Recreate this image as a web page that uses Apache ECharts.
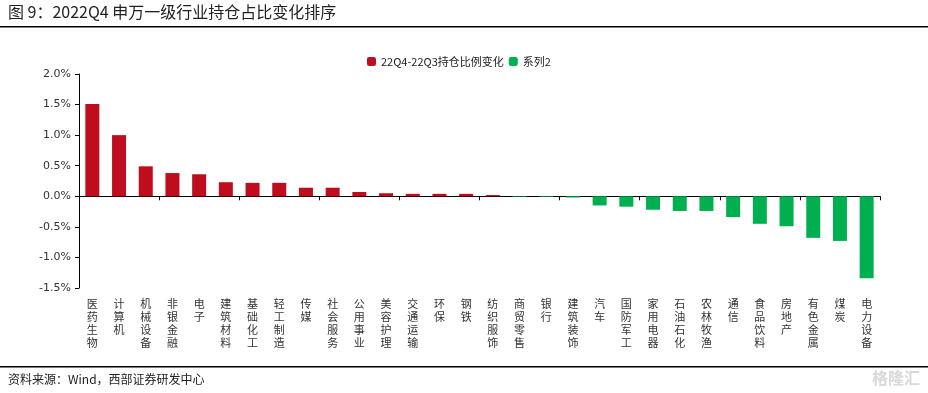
<!DOCTYPE html>
<html><head><meta charset="utf-8">
<script src="https://cdn.jsdelivr.net/npm/echarts@6/dist/echarts.min.js"></script>
<style>html,body{margin:0;padding:0;background:#fff}#c{width:928px;height:393px}</style>
</head><body><div id="c"></div>
<script>
var categories = ['医药生物','计算机','机械设备','非银金融','电子','建筑材料','基础化工','轻工制造','传媒','社会服务','公用事业','美容护理','交通运输','环保','钢铁','纺织服饰','商贸零售','银行','建筑装饰','汽车','国防军工','家用电器','石油石化','农林牧渔','通信','食品饮料','房地产','有色金属','煤炭','电力设备'];
var changeValues = [1.51,1.00,0.49,0.38,0.36,0.23,0.22,0.22,0.14,0.14,0.07,0.05,0.04,0.04,0.04,0.02,-0.01,-0.01,-0.02,-0.15,-0.17,-0.22,-0.24,-0.24,-0.34,-0.45,-0.49,-0.68,-0.73,-1.34];
var yTicks = [-1.5,-1.0,-0.5,0.0,0.5,1.0,1.5,2.0];
var seriesNames = ['22Q4-22Q3持仓比例变化','系列2'];

var posData = changeValues.map(function(v){return v>=0?v:'-';});
var negData = changeValues.map(function(v){return v<0?v:'-';});
var FONT = '"Noto Sans CJK SC", sans-serif';
var chart = echarts.init(document.getElementById('c'));
chart.setOption({
  animation:false,
  textStyle:{fontFamily:FONT},
  legend:{
    top:51, left:362, itemWidth:9, itemHeight:9, itemGap:5,
    textStyle:{fontSize:11,color:'#222',fontFamily:FONT},
    data:seriesNames
  },
  grid:{left:79,right:48,top:74,bottom:105,containLabel:false},
  xAxis:[{
    type:'category', data:categories,
    axisLine:{onZero:true,lineStyle:{color:'#000',width:1}},
    axisTick:{show:true,alignWithLabel:false,length:4,lineStyle:{color:'#000'}},
    axisLabel:{show:false}
  },{
    type:'category', data:categories, position:'bottom',
    axisLine:{show:false}, axisTick:{show:false},
    axisLabel:{interval:0,margin:9,fontSize:11,lineHeight:13,color:'#333',fontFamily:FONT,
      formatter:function(v){return v.split('').join('\n');}}
  }],
  yAxis:{
    type:'value', min:yTicks[0], max:yTicks[yTicks.length-1], interval:0.5,
    splitLine:{show:false},
    axisLine:{show:true,lineStyle:{color:'#000'}},
    axisTick:{show:true,length:4,lineStyle:{color:'#000'}},
    axisLabel:{fontSize:11,color:'#333',margin:8,fontFamily:'"DejaVu Sans", sans-serif',
      formatter:function(v){return v.toFixed(1)+'%';}}
  },
  series:[
    {name:seriesNames[0],type:'bar',stack:'s',data:posData,barWidth:14,itemStyle:{color:'#C00D1E'}},
    {name:seriesNames[1],type:'bar',stack:'s',data:negData,barWidth:14,itemStyle:{color:'#00B050'}}
  ],
  graphic:[
    {type:'text',left:8,top:4,style:{text:'图 9：2022Q4 申万一级行业持仓占比变化排序',font:'16px "Noto Sans CJK SC"',fill:'#222'}},
    {type:'rect',shape:{x:0,y:26,width:928,height:1.5},style:{fill:'#000'}},
    {type:'rect',shape:{x:0,y:366,width:928,height:1.5},style:{fill:'#000'}},
    {type:'text',left:8,top:373,style:{text:'资料来源：Wind，西部证券研发中心',font:'12px "Noto Sans CJK SC"',fill:'#222'}},
    {type:'text',right:8,top:370,style:{text:'格隆汇',font:'bold 16px "Noto Sans CJK SC"',fill:'#d8d8d8'}}
  ]
});
</script></body></html>
